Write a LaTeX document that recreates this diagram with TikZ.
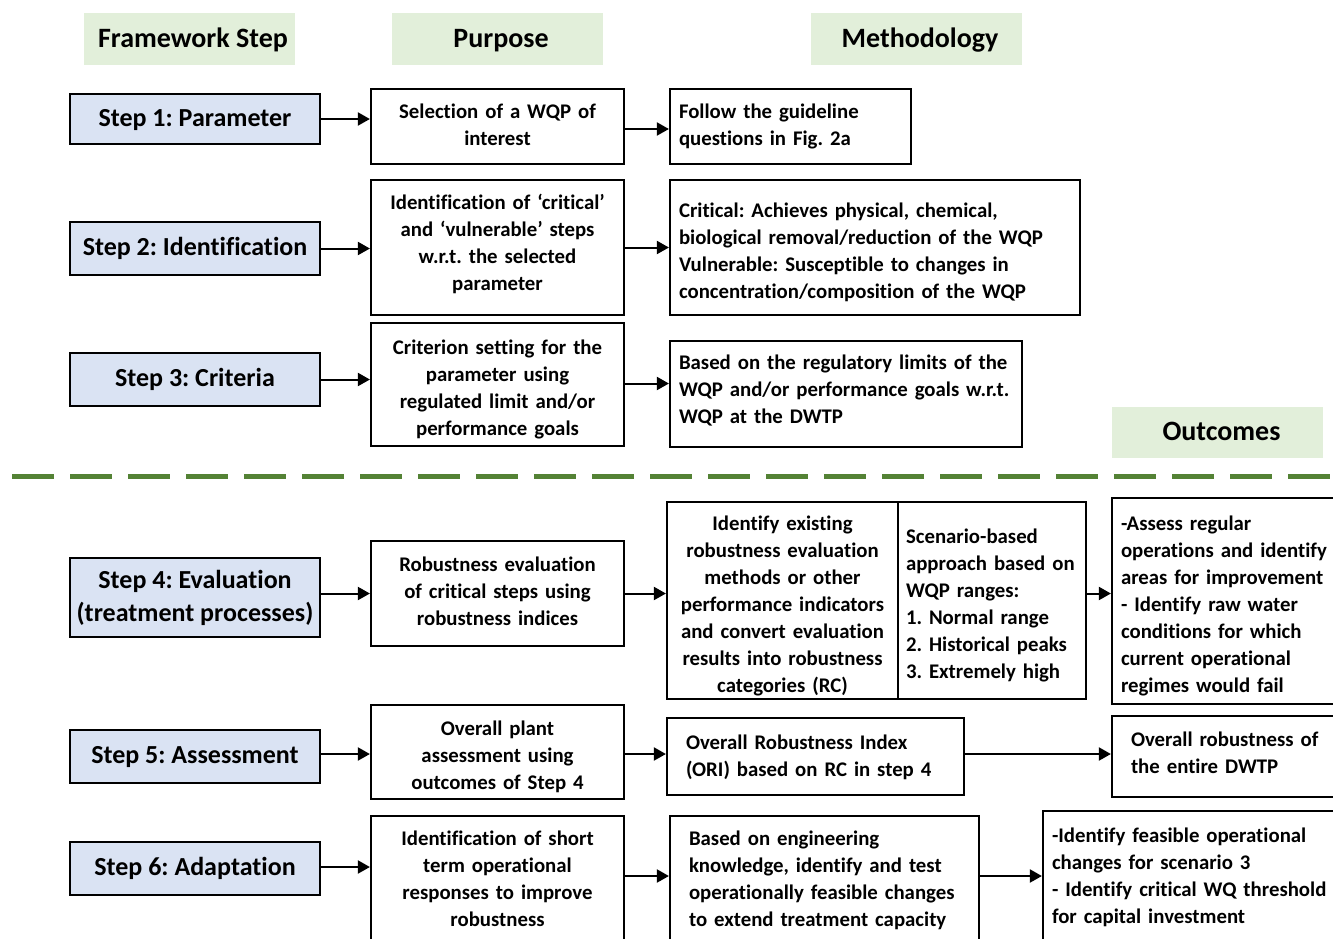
\documentclass[tikz,border=0pt]{standalone}
\usepackage{fontspec}
\setmainfont{Carlito}[Ligatures=CommonOff]
\usetikzlibrary{arrows.meta}
\definecolor{headgreen}{HTML}{E2EFDA}
\definecolor{stepblue}{HTML}{DAE3F3}
\definecolor{dashgreen}{HTML}{548235}
\newcommand{\headfnt}{\bfseries\fontsize{28}{32}\selectfont}
\newcommand{\stepfnt}{\bfseries\fontsize{26}{33}\selectfont}
\newcommand{\bodyfnt}{\bfseries\fontsize{20.8}{27}\selectfont}
\frenchspacing
\begin{document}
\begin{tikzpicture}[x={(1pt,0)},y={(0,-1pt)},
  head/.style={fill=headgreen,inner sep=0pt,font=\headfnt,minimum width=211,minimum height=52,text height=20pt,text depth=4pt},
  stepbox/.style={draw,line width=2.2pt,fill=stepblue,inner sep=0pt,font=\stepfnt,align=center,minimum width=250},
  onel/.style={text height=18pt,text depth=4pt},
  box/.style={draw,line width=2.2pt,fill=white,inner sep=0pt},
  ctext/.style={inner sep=0pt,font=\bodyfnt,align=center},
  ltext/.style={inner sep=0pt,font=\bodyfnt,align=left},
  arr/.style={line width=2pt,-{Triangle[length=12pt,width=13pt]}},
  dashline/.style={dashgreen,line width=5pt,dash pattern=on 42pt off 16pt}]
\useasboundingbox (0,0) rectangle (1333,938);
\clip (0,0) rectangle (1333,938);
% headers
\node[head] (h1) at (189.5,39) {\hspace{7pt}Framework Step};
\node[head] (h2) at (497.5,39) {\hspace{7pt}Purpose};
\node[head] (h3) at (916.5,39) {\hspace{7pt}Methodology};
\node[head,minimum height=51] (h4) at (1217.5,432.5) {\hspace{8pt}Outcomes};
% dashed separator
\draw[dashline] (12,476) -- (1333,476);
% step boxes
\node[stepbox,onel,minimum height=50] (s1) at (195,119) {Step 1: Parameter};
\node[stepbox,onel,minimum height=53] (s2) at (195,248.5) {Step 2: Identification};
\node[stepbox,onel,minimum height=53] (s3) at (195,379.5) {Step 3: Criteria};
\node[stepbox,minimum height=79] (s4) at (195,597.5) {Step 4: Evaluation\\(treatment processes)};
\node[stepbox,onel,minimum height=53] (s5) at (195,756.5) {Step 5: Assessment};
\node[stepbox,onel,minimum height=53] (s6) at (195,868.5) {Step 6: Adaptation};
% purpose boxes
\node[box,minimum width=253,minimum height=75] (p1) at (497.5,126.5) {};
\node[ctext,text width=241] (p1t) at (497.5,124.5) {Selection of a WQP of\\interest};
\node[box,minimum width=253,minimum height=135] (p2) at (497.5,247.5) {};
\node[ctext,text width=241] (p2t) at (497.5,243.5) {Identification of ‘critical’\\and ‘vulnerable’ steps\\w.r.t. the selected\\parameter};
\node[box,minimum width=253,minimum height=123] (p3) at (497.5,384.5) {};
\node[ctext,text width=241] (p3t) at (497.5,389.5) {Criterion setting for the\\parameter using\\regulated limit and/or\\performance goals};
\node[box,minimum width=253,minimum height=105] (p4) at (497.5,593.5) {};
\node[ctext,text width=241] (p4t) at (497.5,591.5) {Robustness evaluation\\of critical steps using\\robustness indices};
\node[box,minimum width=253,minimum height=94] (p5) at (497.5,752) {};
\node[ctext,text width=241] (p5t) at (497.5,757) {Overall plant\\assessment using\\outcomes of Step 4};
\node[box,minimum width=253,minimum height=125] (p6) at (497.5,878.5) {};
\node[ctext,text width=241] (p6t) at (497.5,878.5) {Identification of short\\term operational\\responses to improve\\robustness};
% methodology boxes
\node[box,minimum width=241,minimum height=75] (m1) at (790.5,126.5) {};
\node[ltext,text width=223] (m1t) at (790.5,126.5) {Follow the guideline\\questions in Fig. 2a};
\node[box,minimum width=410,minimum height=135] (m2) at (875,247.5) {};
\node[ltext,text width=392] (m2t) at (875,252.5) {Critical: Achieves physical, chemical,\\biological removal/reduction of the WQP\\Vulnerable: Susceptible to changes in\\concentration/composition of the WQP};
\node[box,minimum width=352,minimum height=106] (m3) at (846,394) {};
\node[ltext,text width=334] (m3t) at (846,390.5) {Based on the regulatory limits of the\\WQP and/or performance goals w.r.t.\\WQP at the DWTP};
\node[box,minimum width=231,minimum height=197] (m4a) at (782.5,600.5) {};
\node[ctext,text width=223] (m4at) at (782.5,605.5) {Identify existing\\robustness evaluation\\methods or other\\performance indicators\\and convert evaluation\\results into robustness\\categories (RC)};
\node[box,minimum width=188,minimum height=197] (m4b) at (992,600.5) {};
\node[ltext,text width=172] (m4bt) at (992,605.5) {Scenario-based\\approach based on\\WQP ranges:\\1. Normal range\\2. Historical peaks\\3. Extremely high};
\node[box,minimum width=297,minimum height=77] (m5) at (815.5,756.5) {};
\node[ltext,text width=259] (m5t) at (815.5,757) {Overall Robustness Index\\(ORI) based on RC in step 4};
\node[box,minimum width=309,minimum height=125] (m6) at (824.5,878.5) {};
\node[ltext,text width=271] (m6t) at (824.5,880.5) {Based on engineering\\knowledge, identify and test\\operationally feasible changes\\to extend treatment capacity};
% outcome boxes
\node[box,minimum width=240,minimum height=206] (o4) at (1232,601) {};
\node[ltext,text width=222] (o4t) at (1232,606) {-Assess regular\\operations and identify\\areas for improvement\\- Identify raw water\\conditions for which\\current operational\\regimes would fail};
\node[box,minimum width=240,minimum height=81] (o5) at (1232,756.5) {};
\node[ltext,text width=202] (o5t) at (1232,752.5) {Overall robustness of\\the entire DWTP};
\node[box,minimum width=308,minimum height=129] (o6) at (1197,875.5) {};
\node[ltext,text width=290] (o6t) at (1197,877.5) {-Identify feasible operational\\changes for scenario 3\\- Identify critical WQ threshold\\for capital investment};
% connectors
\draw[arr] (s1.east) -- (p1.west |- s1.east);
\draw[arr] (p1.east |- 0,129) -- (m1.west |- 0,129);
\draw[arr] (s2.east) -- (p2.west |- s2.east);
\draw[arr] (p2.east) -- (m2.west |- p2.east);
\draw[arr] (s3.east) -- (p3.west |- s3.east);
\draw[arr] (p3.east |- 0,383.5) -- (m3.west |- 0,383.5);
\draw[arr] (s4.east |- p4.west) -- (p4.west);
\draw[arr] (p4.east) -- (m4a.west |- p4.east);
\draw[arr] (m4b.east |- p4.east) -- (o4.west |- p4.east);
\draw[arr] (s5.east |- 0,754) -- (p5.west |- 0,754);
\draw[arr] (p5.east |- 0,754) -- (m5.west |- 0,754);
\draw[arr] (m5.east |- 0,754) -- (o5.west |- 0,754);
\draw[arr] (s6.east |- 0,867) -- (p6.west |- 0,867);
\draw[arr] (p6.east |- 0,876) -- (m6.west |- 0,876);
\draw[arr] (m6.east |- 0,876) -- (o6.west |- 0,876);
\end{tikzpicture}
\end{document}
